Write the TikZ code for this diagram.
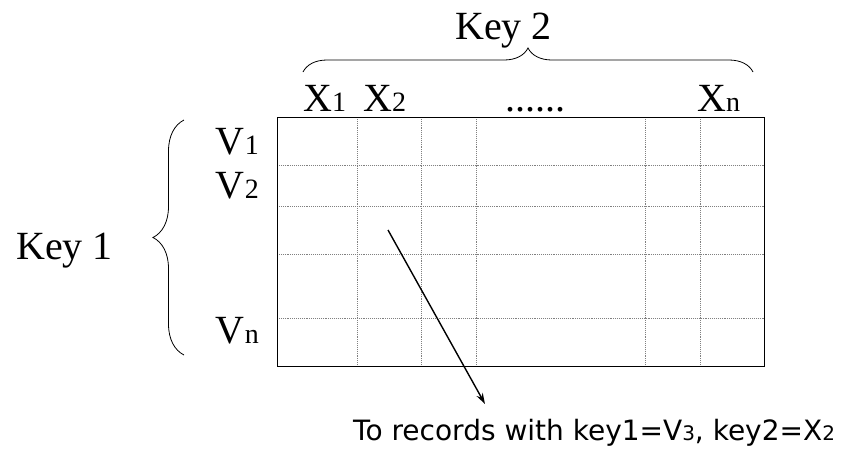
\documentclass[tikz,border=0pt]{standalone}
\usepackage{fontspec}
\setmainfont{Liberation Serif}
\newfontfamily\sansf{DejaVu Sans}
\usetikzlibrary{decorations.pathreplacing,arrows.meta}
\newcommand{\bigt}{\fontsize{40}{44}\selectfont}
\newcommand{\smt}[1]{{\fontsize{28}{30}\selectfont #1}}
\newcommand{\ssub}[1]{{\fontsize{20}{22}\selectfont #1}}
\tikzset{
  lbl/.style={inner sep=0pt, font=\bigt},
  gridline/.style={gray, densely dotted, line width=0.9pt},
  bracestyle/.style={decorate, line width=0.8pt},
  conn/.style={line width=1.4pt, -{Stealth[length=11pt,width=7pt]}}
}
\begin{document}
\begin{tikzpicture}[x=1pt,y=-1pt]
\useasboundingbox (0,0) rectangle (841,451);
% grid
\foreach \x in {357,421,476,645,700} \draw[gridline] (\x,117) -- (\x,366);
\foreach \y in {165,206,254,318} \draw[gridline] (277,\y) -- (764,\y);
\node[draw=black, line width=1.3pt, inner sep=0pt, minimum width=487pt, minimum height=249pt, anchor=north west] (grid) at (277,117) {};
% labels
\node[lbl, anchor=base west] (key2) at (455,39) {Key 2};
\node[lbl, anchor=base west] (key1) at (16,259) {Key 1};
\node[lbl, anchor=base west] (x1) at (303,111) {X\smt{1}};
\node[lbl, anchor=base west] (x2) at (363,111) {X\smt{2}};
\node[lbl, anchor=base west] (dots) at (505,111) {......};
\node[lbl, anchor=base west] (xn) at (697,111) {X\smt{n}};
\node[lbl, anchor=base east] (v1) at (259,154) {V\smt{1}};
\node[lbl, anchor=base east] (v2) at (259,198) {V\smt{2}};
\node[lbl, anchor=base east] (vn) at (259,343) {V\smt{n}};
% braces
\coordinate (b2l) at (303,72);
\coordinate (b2r) at (753,72);
\draw[bracestyle, decoration={brace, amplitude=24pt}] (b2l) -- (b2r);
\coordinate (b1t) at (184,120);
\coordinate (b1b) at (184,355);
\draw[bracestyle, decoration={brace, amplitude=31pt}] (b1b) -- (b1t);
% arrow and note
\coordinate (arrS) at (388,230);
\coordinate (arrE) at (485,404);
\draw[conn] (arrS) -- (arrE);
\node[inner sep=0pt, anchor=base west, font=\sansf\fontsize{28}{30}\selectfont] (note) at (353,440) {To records with key1=V\ssub{3}, key2=X\ssub{2}};
\end{tikzpicture}
\end{document}
